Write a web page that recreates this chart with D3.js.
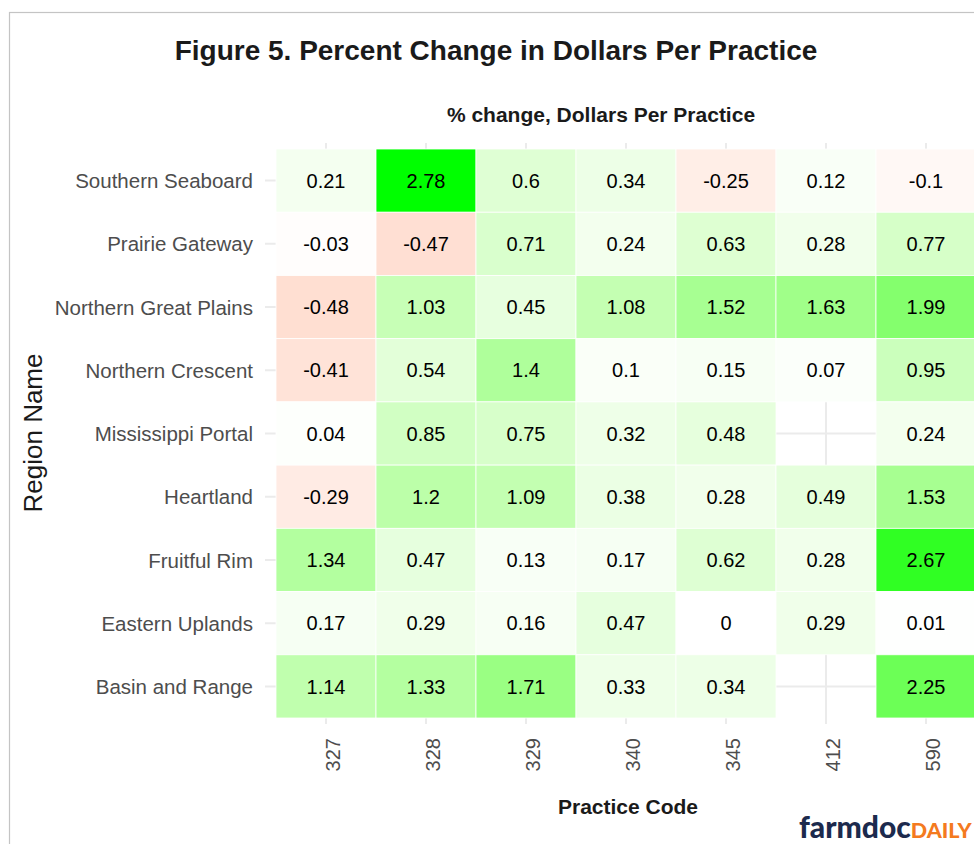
<!DOCTYPE html>
<html>
<head>
<meta charset="utf-8">
<script src="https://cdn.jsdelivr.net/npm/d3@7"></script>
<style>
  body { margin: 0; background: #fff; }
  svg { display: block; font-family: "Liberation Sans", Arial, sans-serif; }
</style>
</head>
<body>
<div id="chart"></div>
<script>
// regions top to bottom, practice codes left to right
const regions = ['Southern Seaboard', 'Prairie Gateway', 'Northern Great Plains', 'Northern Crescent',
  'Mississippi Portal', 'Heartland', 'Fruitful Rim', 'Eastern Uplands', 'Basin and Range'];
const codes = ['327', '328', '329', '340', '345', '412', '590'];
// % change per region, one entry per code (null = no data)
const pctChange = [
  [0.21, 2.78, 0.6, 0.34, -0.25, 0.12, -0.1],
  [-0.03, -0.47, 0.71, 0.24, 0.63, 0.28, 0.77],
  [-0.48, 1.03, 0.45, 1.08, 1.52, 1.63, 1.99],
  [-0.41, 0.54, 1.4, 0.1, 0.15, 0.07, 0.95],
  [0.04, 0.85, 0.75, 0.32, 0.48, null, 0.24],
  [-0.29, 1.2, 1.09, 0.38, 0.28, 0.49, 1.53],
  [1.34, 0.47, 0.13, 0.17, 0.62, 0.28, 2.67],
  [0.17, 0.29, 0.16, 0.47, 0, 0.29, 0.01],
  [1.14, 1.33, 1.71, 0.33, 0.34, null, 2.25]
];

const width = 974;
const height = 844;

const cells = [];
regions.forEach((r, i) => {
  codes.forEach((c, j) => {
    if (pctChange[i][j] !== null) cells.push({region: r, code: c, value: pctChange[i][j]});
  });
});

const x = d3.scaleBand().domain(codes).range([276, 976]);
const y = d3.scaleBand().domain(regions).range([149, 718]);

// diverging fill like ggplot gradient2 (white at 0, Lab interpolation)
const maxAbs = d3.max(cells, d => Math.abs(d.value));
const toGreen = d3.interpolateLab('#ffffff', '#00ff00');
const toRed = d3.interpolateLab('#ffffff', '#ff0000');
const fill = v => v >= 0 ? toGreen(v / maxAbs) : toRed(-v / maxAbs);

const svg = d3.select('#chart').append('svg')
  .attr('width', width)
  .attr('height', height);

// image frame
svg.append('rect')
  .attr('x', 9.5).attr('y', 12.5)
  .attr('width', 1000).attr('height', 900)
  .attr('fill', 'none')
  .attr('stroke', '#c4c4c4')
  .attr('stroke-width', 1.2);

// panel grid
const grid = svg.append('g');
grid.selectAll('line.v')
  .data(codes)
  .enter().append('line')
  .attr('class', 'v')
  .attr('x1', d => x(d) + x.bandwidth() / 2)
  .attr('x2', d => x(d) + x.bandwidth() / 2)
  .attr('y1', 143).attr('y2', 724)
  .attr('stroke', '#ebebeb').attr('stroke-width', 2);
grid.selectAll('line.h')
  .data(regions)
  .enter().append('line')
  .attr('class', 'h')
  .attr('y1', d => y(d) + y.bandwidth() / 2)
  .attr('y2', d => y(d) + y.bandwidth() / 2)
  .attr('x1', 265).attr('x2', 990)
  .attr('stroke', '#ebebeb').attr('stroke-width', 2);

// tiles
svg.selectAll('rect.tile')
  .data(cells)
  .enter().append('rect')
  .attr('class', 'tile')
  .attr('x', d => x(d.code))
  .attr('y', d => y(d.region))
  .attr('width', x.bandwidth())
  .attr('height', y.bandwidth())
  .attr('fill', d => fill(d.value))
  .attr('stroke', '#ffffff')
  .attr('stroke-width', 0.8);

svg.selectAll('text.val')
  .data(cells)
  .enter().append('text')
  .attr('class', 'val')
  .attr('x', d => x(d.code) + x.bandwidth() / 2)
  .attr('y', d => y(d.region) + y.bandwidth() / 2)
  .attr('dy', '0.36em')
  .attr('text-anchor', 'middle')
  .attr('font-size', 20)
  .attr('fill', '#000')
  .text(d => String(d.value));

// axes
const yAxis = svg.append('g')
  .attr('transform', 'translate(265,1)')
  .call(d3.axisLeft(y).tickSize(0).tickPadding(12));
yAxis.select('.domain').remove();
yAxis.selectAll('text')
  .attr('font-size', 20.5)
  .attr('font-family', '"Liberation Sans", Arial, sans-serif')
  .attr('fill', '#4d4d4d');

const xAxis = svg.append('g')
  .attr('transform', 'translate(0,724)')
  .call(d3.axisBottom(x).tickSize(0));
xAxis.select('.domain').remove();
xAxis.selectAll('text')
  .attr('transform', 'rotate(-90)')
  .attr('text-anchor', 'end')
  .attr('x', -14)
  .attr('y', 0)
  .attr('dy', '0.71em')
  .attr('font-size', 20)
  .attr('font-family', '"Liberation Sans", Arial, sans-serif')
  .attr('fill', '#4d4d4d');

// titles
svg.append('text')
  .attr('x', 496).attr('y', 60)
  .attr('text-anchor', 'middle')
  .attr('font-size', 28)
  .attr('font-weight', 'bold')
  .attr('fill', '#1a1a1a')
  .text('Figure 5. Percent Change in Dollars Per Practice');

svg.append('text')
  .attr('x', 601).attr('y', 122)
  .attr('text-anchor', 'middle')
  .attr('font-size', 21)
  .attr('font-weight', 'bold')
  .attr('fill', '#1a1a1a')
  .text('% change, Dollars Per Practice');

svg.append('text')
  .attr('x', 628).attr('y', 814)
  .attr('text-anchor', 'middle')
  .attr('font-size', 21)
  .attr('font-weight', 'bold')
  .attr('fill', '#1a1a1a')
  .text('Practice Code');

svg.append('text')
  .attr('transform', 'translate(42,433) rotate(-90)')
  .attr('text-anchor', 'middle')
  .attr('font-size', 26)
  .attr('fill', '#1a1a1a')
  .text('Region Name');

// logo
const logo = svg.append('text')
  .attr('x', 799).attr('y', 838)
  .attr('font-family', 'Lato, "Open Sans", sans-serif')
  .attr('font-weight', 900);
logo.append('tspan')
  .attr('font-size', 30)
  .attr('fill', '#1c2a4d')
  .text('farmdoc');
logo.append('tspan')
  .attr('font-size', 21.5)
  .attr('fill', '#f47a20')
  .text('DAILY');
</script>
</body>
</html>
